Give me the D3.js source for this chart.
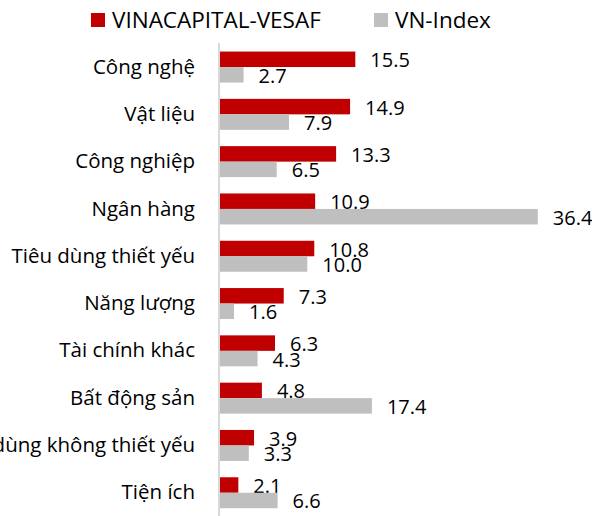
<!DOCTYPE html>
<html>
<head>
<meta charset="utf-8">
<script src="https://cdn.jsdelivr.net/npm/d3@7"></script>
<style>
  html, body { margin: 0; padding: 0; background: #fff; }
  svg { display: block; font-family: "Open Sans", "Noto Sans", sans-serif; }
</style>
</head>
<body>
<svg id="chart" width="592" height="516"></svg>
<script>
const categories = ["Công nghệ", "Vật liệu", "Công nghiệp", "Ngân hàng", "Tiêu dùng thiết yếu",
  "Năng lượng", "Tài chính khác", "Bất động sản", "Tiêu dùng không thiết yếu", "Tiện ích"];
const seriesNames = ["VINACAPITAL-VESAF", "VN-Index"];
const fundValues = [15.5, 14.9, 13.3, 10.9, 10.8, 7.3, 6.3, 4.8, 3.9, 2.1];
const indexValues = [2.7, 7.9, 6.5, 36.4, 10.0, 1.6, 4.3, 17.4, 3.3, 6.6];
const colors = ["#C00000", "#BFBFBF"];

const svg = d3.select("#chart");
const x0 = 219, pxPerUnit = 8.73;
const x = d3.scaleLinear().domain([0, 36.4]).range([x0, x0 + 36.4 * pxPerUnit]);
const y = d3.scaleBand().domain(categories).range([43.4, 516.4]).paddingInner(0.345).paddingOuter(0.1725);
const ySub = d3.scaleBand().domain(seriesNames).range([0, y.bandwidth()]);

// axis line
svg.append("line").attr("x1", x0).attr("x2", x0).attr("y1", 43).attr("y2", 516)
  .attr("stroke", "#D9D9D9").attr("stroke-width", 2);

// category labels
const yAxis = d3.axisLeft(y).tickSize(0).tickPadding(0);
const gA = svg.append("g").attr("transform", `translate(195,0)`).call(yAxis);
gA.select(".domain").remove();
gA.selectAll("text").attr("font-size", 20.5).attr("fill", "#000")
  .attr("font-family", "'Open Sans', sans-serif").attr("dy", "0.32em");

const data = [fundValues, indexValues];
data.forEach((vals, si) => {
  const g = svg.append("g");
  g.selectAll("rect").data(vals).join("rect")
    .attr("x", x(0) + 1)
    .attr("y", (d, i) => y(categories[i]) + ySub(seriesNames[si]))
    .attr("width", d => x(d) - x(0))
    .attr("height", ySub.bandwidth())
    .attr("fill", colors[si]);
  g.selectAll("text").data(vals).join("text")
    .attr("x", d => x(d) + 16)
    .attr("y", (d, i) => y(categories[i]) + ySub(seriesNames[si]) + ySub.bandwidth() / 2 + 1)
    .attr("dy", "0.35em")
    .attr("font-size", 20)
    .attr("fill", "#000")
    .text(d => d.toFixed(1));
});

// legend
const legendX = [91, 374];
seriesNames.forEach((n, i) => {
  svg.append("rect").attr("x", legendX[i]).attr("y", 13).attr("width", 14).attr("height", 14).attr("fill", colors[i]);
  svg.append("text").attr("x", legendX[i] + 21).attr("y", 20).attr("dy", "0.35em")
    .attr("font-size", 22.5).attr("fill", "#000").text(n);
});
</script>
</body>
</html>
